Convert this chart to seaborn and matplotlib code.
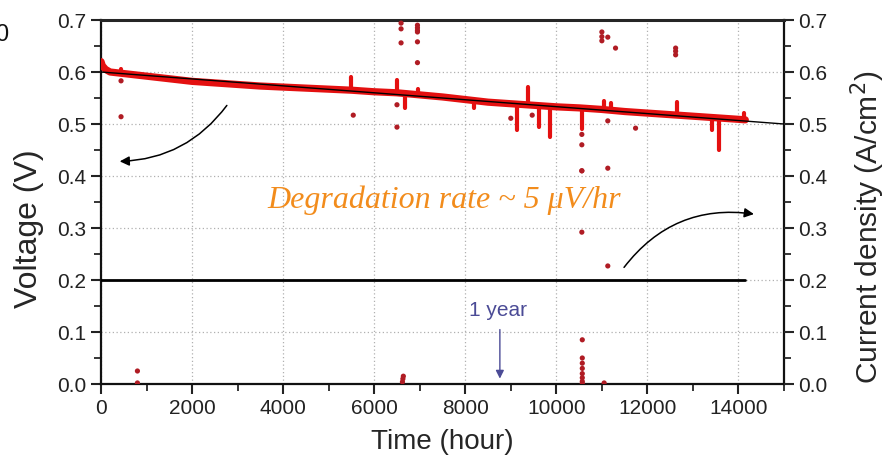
import numpy as np
import pandas as pd
import matplotlib
matplotlib.use("Agg")
import matplotlib.pyplot as plt
import seaborn as sns
from matplotlib.ticker import MultipleLocator

# ---- data ----
trace_t = [0, 30, 100, 200, 400, 600, 800, 1000, 1500, 2000, 2500, 3000, 3500, 4000,
           4500, 5000, 5500, 6000, 6500, 7000, 7500, 8000, 8500, 9000, 9500, 10000,
           10500, 11000, 11500, 12000, 12500, 13000, 13500, 14000, 14150]
trace_v = [0.620, 0.612, 0.605, 0.600, 0.598, 0.596, 0.594, 0.592, 0.587, 0.582, 0.579,
           0.576, 0.573, 0.571, 0.569, 0.567, 0.565, 0.562, 0.560, 0.556, 0.552, 0.547,
           0.542, 0.539, 0.536, 0.533, 0.531, 0.528, 0.524, 0.521, 0.518, 0.515, 0.512,
           0.509, 0.508]

spike_t = [450, 5500, 6500, 6680, 6960, 8200, 9130, 9380, 9610, 9860, 10570, 11050,
           11200, 12650, 13410, 13570, 14130]
spike_lo = [0.596, 0.565, 0.560, 0.530, 0.556, 0.530, 0.488, 0.536, 0.494, 0.475, 0.490,
            0.528, 0.527, 0.517, 0.488, 0.450, 0.508]
spike_hi = [0.605, 0.590, 0.585, 0.560, 0.568, 0.545, 0.538, 0.571, 0.535, 0.534, 0.530,
            0.545, 0.540, 0.543, 0.513, 0.512, 0.521]

fit_t = [0, 15000]
fit_v = [0.600, 0.500]

outlier_t = [440, 440, 5540, 6500, 6500, 6590, 6590, 6590, 6950, 6950, 6950, 6950, 6950,
             6950, 9000, 9470, 10560, 10560, 10560, 10560, 10560, 11000, 11000, 11000,
             11130, 11300, 11130, 11130, 11130, 11740, 12620, 12620, 12620,
             800, 800, 6620, 6630, 6640, 10570, 10570, 10570, 10570, 10570, 10570,
             10570, 10570, 11050]
outlier_v = [0.583, 0.514, 0.517, 0.537, 0.494, 0.694, 0.683, 0.656, 0.690, 0.685, 0.680,
             0.677, 0.658, 0.618, 0.511, 0.517, 0.480, 0.460, 0.410, 0.292, 0.410, 0.677,
             0.668, 0.660, 0.667, 0.646, 0.506, 0.415, 0.227, 0.492, 0.646, 0.640, 0.633,
             0.025, 0.002, 0.004, 0.010, 0.015, 0.085, 0.050, 0.040, 0.030, 0.020, 0.012,
             0.005, 0.001, 0.002]

current_t = [0, 14150]
current_j = [0.2, 0.2]

xticks = [0, 2000, 4000, 6000, 8000, 10000, 12000, 14000]
yticks = [0.0, 0.1, 0.2, 0.3, 0.4, 0.5, 0.6, 0.7]

sns.set_style("ticks")
plt.rcParams["font.family"] = ["Liberation Sans", "DejaVu Sans"]

fig = plt.figure(figsize=(8.87, 4.72), dpi=100)
ax = fig.add_axes([101/887, 1-384/472, (784-101)/887, (384-20)/472])

trace = pd.DataFrame({"t": trace_t, "v": trace_v})
sns.lineplot(data=trace, x="t", y="v", sort=False, estimator=None, color="#e41010",
             linewidth=5.2, ax=ax, zorder=3, solid_capstyle="round")
ax.vlines(spike_t, spike_lo, spike_hi, color="#e41010", linewidth=3.0, zorder=3,
          capstyle="round")
sns.lineplot(x=fit_t, y=fit_v, color="black", linewidth=1.0, ax=ax, zorder=4)
sns.scatterplot(x=outlier_t, y=outlier_v, color="#b01c24", s=14, edgecolor="none",
                ax=ax, zorder=5)
sns.lineplot(x=current_t, y=current_j, color="black", linewidth=2.0, ax=ax, zorder=4)

ax.set_xlim(0, 15000)
ax.set_ylim(0, 0.7)
ax.set_xticks(xticks)
ax.set_yticks(yticks)
ax.set_yticklabels([f"{v:.1f}" for v in yticks])
ax.xaxis.set_minor_locator(MultipleLocator(1000))
ax.yaxis.set_minor_locator(MultipleLocator(0.05))
ax.grid(True, which="major", linestyle=(0, (1, 2)), color="#b0b0b0", linewidth=0.9)
ax.tick_params(axis="both", which="major", direction="out", length=7, width=1.5,
               labelsize=15, colors="#222222", labelcolor="#222222")
ax.tick_params(axis="both", which="minor", direction="out", length=5, width=1.3)
for s in ["left", "bottom", "right"]:
    ax.spines[s].set_linewidth(1.6)
    ax.spines[s].set_color("#111111")
ax.spines["top"].set_linewidth(2.2)
ax.spines["top"].set_visible(True)
ax.spines["right"].set_visible(True)
ax.set_xlabel("Time (hour)", fontsize=20, labelpad=8)
ax.set_ylabel("Voltage (V)", fontsize=23)
ax.yaxis.set_label_coords(-0.083, 0.426)

ax2 = ax.twinx()
ax2.set_ylim(0, 0.7)
ax2.set_yticks(yticks)
ax2.set_yticklabels([f"{v:.1f}" for v in yticks])
ax2.yaxis.set_minor_locator(MultipleLocator(0.05))
ax2.tick_params(axis="y", which="major", direction="out", length=7, width=1.5,
                labelsize=15, labelcolor="#222222")
ax2.tick_params(axis="y", which="minor", direction="out", length=5, width=1.3)
ax2.set_ylabel("Current density (A/cm$^2$)", fontsize=21.5)
ax2.yaxis.set_label_coords(1.094, 0.43)
for s in ax2.spines.values():
    s.set_visible(False)

# annotations
ax.annotate("", xy=(350, 0.428), xytext=(2800, 0.54),
            arrowprops=dict(arrowstyle="-|>", color="black", lw=1.1,
                            connectionstyle="arc3,rad=-0.25", mutation_scale=14))
ax.annotate("", xy=(14400, 0.326), xytext=(11450, 0.22),
            arrowprops=dict(arrowstyle="-|>", color="black", lw=1.1,
                            connectionstyle="arc3,rad=-0.3", mutation_scale=14))
ax.text(7540, 0.354, "Degradation rate ~ 5 \u03bcV/hr", color="#f28c1c",
        fontsize=23, fontstyle="italic", family=["Liberation Serif", "DejaVu Serif"],
        ha="center", va="center", zorder=6)
ax.text(8720, 0.141, "1 year", color="#4b4b96", fontsize=15, ha="center", va="center")
ax.annotate("", xy=(8760, 0.005), xytext=(8760, 0.11),
            arrowprops=dict(arrowstyle="-|>", color="#4b4b96", lw=1.0, mutation_scale=12))

fig.text(-0.006, 0.925, "0", fontsize=17, color="#111111", ha="left", va="center")

fig.savefig("out.png", dpi=100)
